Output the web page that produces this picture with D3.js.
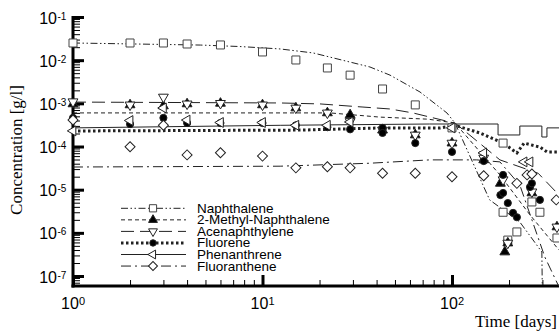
<!DOCTYPE html>
<html>
<head>
<meta charset="utf-8" />
<title>PAH concentrations</title>
<script src="https://d3js.org/d3.v7.min.js"></script>
<style>
  body { margin: 0; padding: 0; background: #ffffff; }
  svg { display: block; }
</style>
</head>
<body>
<div id="chart"></div>
<script>

// ---- data (days, g/l) ----
const names = ['Naphthalene', '2-Methyl-Naphthalene', 'Acenaphthylene', 'Fluorene', 'Phenanthrene', 'Fluoranthene']

const naphDays = [1, 2, 3, 4, 6, 10, 15, 22, 29, 43, 64, 100, 186, 186, 197, 220, 264, 291, 358]
const naphConc = [0.025, 0.025, 0.025, 0.0237, 0.0225, 0.0155, 0.0101, 0.0066, 0.0045, 0.00215, 9.2e-4, 2.7e-4, 1.2e-4, 3.0e-6, 6.8e-7, 1.05e-6, 5.2e-6, 3.0e-6, 7.6e-7]
const mnaphDays = [1, 2, 3, 4, 6, 10, 15, 22, 29, 43, 64, 100, 147, 180, 190, 197, 264, 358]
const mnaphConc = [9.7e-4, 9.2e-4, 8.7e-4, 9.7e-4, 1.0e-3, 9.2e-4, 7.8e-4, 6.0e-4, 5.4e-4, 2.4e-4, 1.85e-4, 1.2e-4, 4.9e-5, 1.4e-5, 3.6e-7, 5.8e-7, 8.4e-6, 1.37e-6]
const acenDays = [1, 2, 3, 4, 6, 10, 15, 22, 29, 43, 64, 100, 147, 186, 197, 264, 358]
const acenConc = [1.09e-3, 9.2e-4, 1.4e-3, 9.7e-4, 1.0e-3, 9.2e-4, 7.8e-4, 6.0e-4, 3.8e-4, 2.4e-4, 1.85e-4, 1.2e-4, 5.4e-5, 1.7e-5, 5.8e-7, 8.9e-6, 1.37e-6]
const fluoDays = [1, 2, 3, 4, 6, 10, 15, 22, 29, 43, 43, 64, 100, 147, 180, 186, 186, 197, 210, 220, 258, 264, 291]
const fluoConc = [4.6e-4, 3.3e-4, 4.6e-4, 3.5e-4, 3.5e-4, 3.5e-4, 3.1e-4, 2.8e-4, 2.5e-4, 2.7e-4, 2.06e-4, 1.2e-4, 7.5e-5, 4.6e-5, 7.5e-6, 2.2e-5, 8.4e-6, 4.9e-6, 2.9e-6, 2.3e-6, 1.15e-5, 1.4e-5, 5.8e-6]
const phenDays = [1, 2, 3, 4, 6, 10, 15, 22, 29, 100, 147, 240, 258]
const phenConc = [2.3e-4, 4.0e-4, 7.8e-4, 4.1e-4, 3.6e-4, 3.6e-4, 3.1e-4, 3.1e-4, 3.7e-4, 2.7e-4, 7.1e-5, 4.4e-5, 4.4e-5]
const flanDays = [1, 2, 3, 4, 6, 10, 15, 22, 29, 43, 64, 100, 147, 220, 249, 264, 355]
const flanConc = [4.1e-4, 9.9e-5, 3.1e-4, 6.4e-5, 7.2e-5, 6.0e-5, 3.2e-5, 3.4e-5, 3.2e-5, 2.4e-5, 2.4e-5, 2.0e-5, 2.1e-5, 1.4e-5, 2.2e-5, 2.3e-5, 5.8e-6]

// model curves
const naphModelDays = [1, 4.7, 7.6, 12.4, 18.5, 36.9, 47.1, 67.8, 94.1, 103.7, 158, 228, 298, 300]
const naphModelConc = [0.025, 0.0224, 0.0207, 0.0182, 0.0147, 0.00695, 0.0045, 0.00183, 5.97e-4, 3.5e-4, 5.8e-6, 1.78e-6, 3.6e-7, 2.8e-8]
const mnaphModelDays = [1, 22.7, 41.6, 74.7, 103.7, 179, 258, 367]
const mnaphModelConc = [6.0e-4, 6.0e-4, 4.8e-4, 4.3e-4, 3.5e-4, 2.2e-5, 2.6e-6, 4.0e-7]
const acenModelDays = [1, 12.4, 20.1, 33.9, 47.1, 62.1, 97.8, 103.7, 179, 285, 367]
const acenModelConc = [1.07e-3, 1.02e-3, 9.7e-4, 8.2e-4, 7.4e-4, 6.0e-4, 3.7e-4, 3.5e-4, 4.9e-5, 2.4e-5, 7.5e-6]
const fluoModelDays = [1, 15.8, 43.2, 86.7, 103.7, 140, 186, 220, 240, 291, 317, 367]
const fluoModelConc = [2.29e-4, 2.4e-4, 2.7e-4, 2.7e-4, 3.1e-4, 2.06e-4, 1.2e-4, 7.1e-5, 1.2e-4, 9.7e-5, 7.5e-5, 7.5e-5]
const phenModelDays = [1, 12.4, 76.2, 103.7, 175, 175, 228, 228, 298, 298, 317, 317, 367]
const phenModelConc = [2.7e-4, 3.1e-4, 3.32e-4, 3.32e-4, 3.32e-4, 1.85e-4, 1.85e-4, 2.98e-4, 2.98e-4, 1.66e-4, 1.66e-4, 2.7e-4, 2.7e-4]
const flanModelDays = [1, 12.4, 36.9, 76.2, 135, 179, 228, 309, 367]
const flanModelConc = [3.35e-5, 3.5e-5, 4.1e-5, 4.9e-5, 4.9e-5, 4.4e-5, 1.28e-5, 2.75e-7, 5.6e-8]

const xMajor = [1, 10, 100]
const xMajorExp = ['0', '1', '2']
const yMajor = [1e-1, 1e-2, 1e-3, 1e-4, 1e-5, 1e-6, 1e-7]
const yMajorExp = ['-1', '-2', '-3', '-4', '-5', '-6', '-7']

// ---- layout ----
const W = 559, H = 333
const mLeft = 73, mRight = 559, mTop = 17, mBottom = 286

const x = d3.scaleLog().domain([1, Math.pow(10, (mRight - mLeft) / 189.5)]).range([mLeft, mRight])
const y = d3.scaleLog().domain([Math.pow(10, -1 - (mBottom - mTop) / 43.17), 0.1]).range([mBottom, mTop])

const svg = d3.select('#chart').append('svg')
  .attr('width', W).attr('height', H)
  .style('font-family', '"Liberation Sans", Arial, sans-serif')

svg.append('clipPath').attr('id', 'plotclip')
  .append('rect').attr('x', mLeft).attr('y', mTop).attr('width', mRight - mLeft).attr('height', mBottom - mTop)

// minor ticks
const xMinor = []
for (let k = 0; k < 3; k++) for (let m = 2; m <= 9; m++) { const v = m * Math.pow(10, k); if (v < x.domain()[1]) xMinor.push(v) }
const yMinor = []
for (let k = -8; k < -1; k++) for (let m = 2; m <= 9; m++) { const v = m * Math.pow(10, k); if (v > y.domain()[0] && v < 0.1) yMinor.push(v) }

svg.append('g').attr('transform', `translate(0,${mBottom})`)
  .call(d3.axisBottom(x).tickValues(xMinor).tickSize(-6).tickFormat(''))
  .call(g => g.select('.domain').remove())
  .call(g => g.selectAll('line').attr('stroke', '#000').attr('stroke-width', 1))
svg.append('g').attr('transform', `translate(0,${mBottom})`)
  .call(d3.axisBottom(x).tickValues(xMajor).tickSize(-11).tickFormat(''))
  .call(g => g.select('.domain').remove())
  .call(g => g.selectAll('line').attr('stroke', '#000').attr('stroke-width', 3))

svg.append('g').attr('transform', `translate(${mLeft},0)`)
  .call(d3.axisLeft(y).tickValues(yMinor).tickSize(-7).tickFormat(''))
  .call(g => g.select('.domain').remove())
  .call(g => g.selectAll('line').attr('stroke', '#000').attr('stroke-width', 1))
svg.append('g').attr('transform', `translate(${mLeft},0)`)
  .call(d3.axisLeft(y).tickValues(yMajor).tickSize(-11).tickFormat(''))
  .call(g => g.select('.domain').remove())
  .call(g => g.selectAll('line').attr('stroke', '#000').attr('stroke-width', 3))

// axis lines
svg.append('line').attr('x1', mLeft).attr('x2', mLeft).attr('y1', mTop - 1).attr('y2', mBottom + 1.5)
  .attr('stroke', '#000').attr('stroke-width', 3)
svg.append('line').attr('x1', mLeft - 1.5).attr('x2', mRight).attr('y1', mBottom).attr('y2', mBottom)
  .attr('stroke', '#000').attr('stroke-width', 3)

// tick labels
xMajor.forEach((v, i) => {
  svg.append('text').attr('x', x(v) - 3).attr('y', 309).attr('text-anchor', 'middle')
    .style('font-size', '16px').text('10')
  svg.append('text').attr('x', x(v) + 6).attr('y', 305).attr('text-anchor', 'start')
    .style('font-size', '11px').text(xMajorExp[i])
})
yMajor.forEach((v, i) => {
  svg.append('text').attr('x', 57).attr('y', y(v) + 6.5).attr('text-anchor', 'end')
    .style('font-size', '16px').text('10')
  svg.append('text').attr('x', 57.5).attr('y', y(v) + 2.5).attr('text-anchor', 'start')
    .style('font-size', '10px').text(yMajorExp[i])
})

// axis titles
svg.append('text').attr('transform', 'translate(22,150) rotate(-90)').attr('text-anchor', 'middle')
  .style('font-family', '"Liberation Serif", "Times New Roman", serif').style('font-size', '17px')
  .text('Concentration [g/l]')
svg.append('text').attr('x', 557).attr('y', 327).attr('text-anchor', 'end')
  .style('font-family', '"Liberation Serif", "Times New Roman", serif').style('font-size', '17px')
  .text('Time [days]')

// ---- series ----
const series = [
  { days: naphDays, conc: naphConc, mDays: naphModelDays, mConc: naphModelConc, dash: '7,2.5,1.5,2.5,1.5,2.5', width: 1, marker: 'square' },
  { days: mnaphDays, conc: mnaphConc, mDays: mnaphModelDays, mConc: mnaphModelConc, dash: '4,3', width: 1, marker: 'triUp' },
  { days: acenDays, conc: acenConc, mDays: acenModelDays, mConc: acenModelConc, dash: '13,6', width: 1, marker: 'triDown' },
  { days: fluoDays, conc: fluoConc, mDays: fluoModelDays, mConc: fluoModelConc, dash: '2.5,2.5', width: 3, marker: 'circle' },
  { days: phenDays, conc: phenConc, mDays: phenModelDays, mConc: phenModelConc, dash: null, width: 1, marker: 'triLeft' },
  { days: flanDays, conc: flanConc, mDays: flanModelDays, mConc: flanModelConc, dash: '10,4,2,4', width: 1, marker: 'diamond' }
]

const markerPath = (kind, s) => {
  if (kind === 'square') return d3.symbol(d3.symbolSquare, 64 * s * s)()
  if (kind === 'circle') return d3.symbol(d3.symbolCircle, 40 * s * s)()
  if (kind === 'diamond') return d3.symbol(d3.symbolSquare, 50 * s * s)()
  return d3.symbol(d3.symbolTriangle, 42 * s * s)()
}
const markerRot = kind => ({ triDown: 180, triLeft: 270, diamond: 45 }[kind] || 0)
const markerFill = kind => (kind === 'triUp' || kind === 'circle') ? '#000' : '#fff'
const markerStroke = kind => kind === 'square' ? '#444' : '#222'

const line = d3.line().x(d => x(d[0])).y(d => y(d[1]))

const plot = svg.append('g').attr('clip-path', 'url(#plotclip)')
series.forEach(s => {
  plot.append('path')
    .datum(s.mDays.map((d, i) => [d, s.mConc[i]]))
    .attr('fill', 'none')
    .attr('stroke', '#222')
    .attr('stroke-width', s.width)
    .attr('stroke-dasharray', s.dash)
    .attr('d', line)
})

series.forEach(s => {
  svg.append('g').selectAll('path')
    .data(s.days.map((d, i) => [d, s.conc[i]]))
    .enter()
    .append('path')
      .attr('d', markerPath(s.marker, 1))
      .attr('transform', d => `translate(${x(d[0])},${y(d[1])}) rotate(${markerRot(s.marker)})`)
      .attr('fill', markerFill(s.marker))
      .attr('stroke', markerStroke(s.marker))
      .attr('stroke-width', 1)
})

// ---- legend ----
const legend = svg.append('g')
series.forEach((s, i) => {
  const ly = 208.3 + i * 11.55
  legend.append('line').attr('x1', 121).attr('x2', 186).attr('y1', ly).attr('y2', ly)
    .attr('stroke', '#222').attr('stroke-width', s.width).attr('stroke-dasharray', s.dash)
  legend.append('path').attr('d', markerPath(s.marker, 0.9))
    .attr('transform', `translate(153,${ly}) rotate(${markerRot(s.marker)})`)
    .attr('fill', markerFill(s.marker)).attr('stroke', markerStroke(s.marker))
  legend.append('text').attr('x', 197).attr('y', ly + 4.5)
    .style('font-size', '13.5px').text(names[i])
})
</script>
</body>
</html>
